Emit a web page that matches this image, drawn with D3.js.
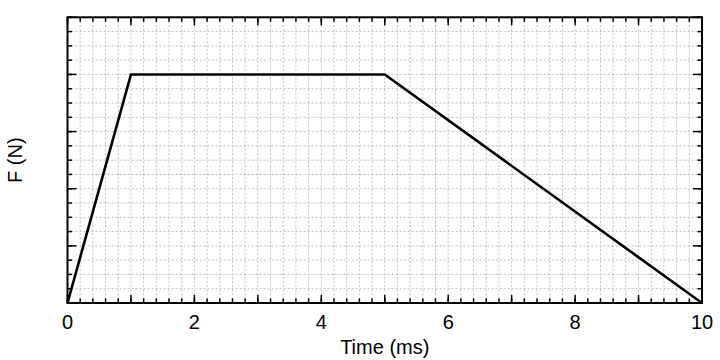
<!DOCTYPE html>
<html>
<head>
<meta charset="utf-8">
<script src="https://cdn.jsdelivr.net/npm/d3@7"></script>
<style>
  body { margin: 0; background: #fff; }
  svg { display: block; font-family: "Liberation Sans", Arial, sans-serif; }
</style>
</head>
<body>
<svg id="chart" width="720" height="360"></svg>
<script>
// force pulse: time (ms) vs force
var timeMs = [0, 1, 5, 10];
var force = [0, 4, 4, 0];
var xTickLabels = [0, 2, 4, 6, 8, 10];
var xLabel = "Time (ms)";
var yLabel = "F (N)";

var svg = d3.select("#chart");
var m = {l: 67.5, r: 18, t: 17.3, b: 57};
var W = 720 - m.l - m.r, H = 360 - m.t - m.b;

var x = d3.scaleLinear().domain([0, 10]).range([0, W]);
var y = d3.scaleLinear().domain([0, 5]).range([H, 0]);

var g = svg.append("g").attr("transform", "translate(" + m.l + "," + m.t + ")");

// dotted minor grid
var xMinor = d3.range(0, 10.001, 0.2), yMinor = d3.range(0, 5.001, 0.25);
g.append("g").selectAll("line").data(xMinor).enter().append("line")
    .attr("x1", function(d) { return x(d); }).attr("x2", function(d) { return x(d); })
    .attr("y1", 0).attr("y2", H)
    .attr("stroke", "#bdbdbd").attr("stroke-width", 1).attr("stroke-dasharray", "2,2");
g.append("g").selectAll("line").data(yMinor).enter().append("line")
    .attr("y1", function(d) { return y(d); }).attr("y2", function(d) { return y(d); })
    .attr("x1", 0).attr("x2", W)
    .attr("stroke", "#bdbdbd").attr("stroke-width", 1).attr("stroke-dasharray", "2,2");

// inward ticks on all four sides
function ticks(sel, vals, len, horiz, pos, dir) {
    sel.append("g").selectAll("line").data(vals).enter().append("line")
        .attr("x1", function(d) { return horiz ? x(d) : pos; })
        .attr("x2", function(d) { return horiz ? x(d) : pos + dir * len; })
        .attr("y1", function(d) { return horiz ? pos : y(d); })
        .attr("y2", function(d) { return horiz ? pos + dir * len : y(d); })
        .attr("stroke", "#000").attr("stroke-width", 1.5);
}
var xMajor = d3.range(0, 11, 1), yMajor = d3.range(0, 6, 1);
ticks(g, xMinor, 4.5, true, H, -1);
ticks(g, xMajor, 8, true, H, -1);
ticks(g, xMinor, 4.5, true, 0, 1);
ticks(g, xMajor, 8, true, 0, 1);
ticks(g, yMinor, 4.5, false, 0, 1);
ticks(g, yMajor, 9, false, 0, 1);
ticks(g, yMinor, 4.5, false, W, -1);
ticks(g, yMajor, 9, false, W, -1);

// frame
g.append("rect").attr("width", W).attr("height", H)
    .attr("fill", "none").attr("stroke", "#000").attr("stroke-width", 2);

// tick labels
g.append("g").selectAll("text").data(xTickLabels).enter().append("text")
    .attr("x", function(d) { return x(d); }).attr("y", H + 26)
    .attr("text-anchor", "middle").attr("font-size", 20).text(function(d) { return d; });

// data line
var line = d3.line().x(function(d, i) { return x(timeMs[i]); }).y(function(d) { return y(d); });
g.append("path").datum(force).attr("d", line)
    .attr("fill", "none").attr("stroke", "#000").attr("stroke-width", 2.6)
    .attr("stroke-linejoin", "miter");

// axis titles
svg.append("text").attr("x", m.l + W / 2).attr("y", 354)
    .attr("text-anchor", "middle").attr("font-size", 20).text(xLabel);
svg.append("text").attr("transform", "translate(22," + (m.t + H / 2) + ") rotate(-90)")
    .attr("text-anchor", "middle").attr("font-size", 20).text(yLabel);
</script>
</body>
</html>
